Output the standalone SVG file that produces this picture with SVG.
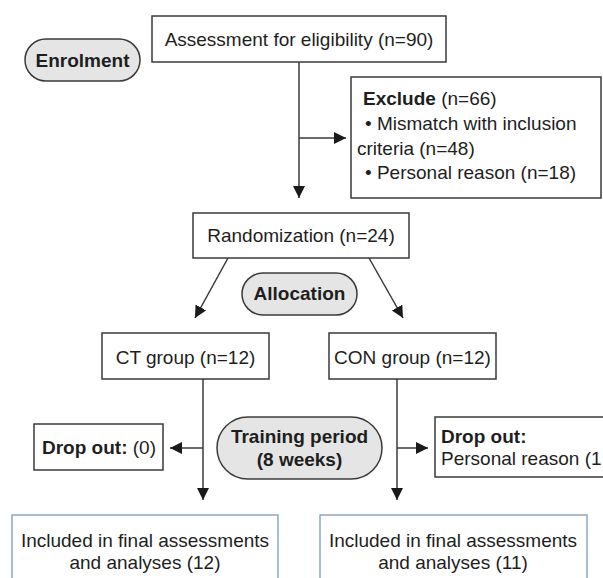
<svg xmlns="http://www.w3.org/2000/svg" width="603" height="578" viewBox="0 0 603 578">
<defs>
<style>
.box{fill:#fff;stroke:#3a3a3a;stroke-width:1.5}
.fin{fill:#fff;stroke:#8ea6c2;stroke-width:1.5}
.pill{fill:#e5e5e5;stroke:#3a3a3a;stroke-width:1.5}
.t{font-family:"Liberation Sans",Arial,sans-serif;font-size:19px;fill:#1e1e1e}
.c{text-anchor:middle}
.b{font-weight:bold}
.ln{fill:none;stroke:#3a3a3a;stroke-width:1.5}
</style>
<marker id="ah" markerUnits="userSpaceOnUse" markerWidth="13" markerHeight="13" refX="12" refY="6" orient="auto">
<path d="M0,0 L12,6 L0,12 z" fill="#1a1a1a"/>
</marker>
</defs>
<rect width="603" height="578" fill="#fff"/>

<g id="connectors">
<path class="ln" d="M299,62 V198" marker-end="url(#ah)"/>
<path class="ln" d="M299,138 H346" marker-end="url(#ah)"/>
<path class="ln" d="M228,258 L195,318" marker-end="url(#ah)"/>
<path class="ln" d="M369,258 L403,318" marker-end="url(#ah)"/>
<path class="ln" d="M203,379 V500" marker-end="url(#ah)"/>
<path class="ln" d="M397,379 V500" marker-end="url(#ah)"/>
<path class="ln" d="M203,448 H170" marker-end="url(#ah)"/>
<path class="ln" d="M397,448 H428" marker-end="url(#ah)"/>
</g>

<g id="enrolment">
<rect class="pill" x="25" y="39" width="115" height="42" rx="21"/>
<text class="t c b" x="82.5" y="67">Enrolment</text>
</g>

<g id="assessment">
<rect class="box" x="152" y="16" width="294" height="46"/>
<text class="t c" x="299" y="46">Assessment for eligibility (n=90)</text>
</g>

<g id="exclude">
<rect class="box" x="351" y="77" width="250" height="121"/>
<text class="t" x="363" y="105"><tspan class="b">Exclude</tspan> (n=66)</text>
<text class="t" x="365" y="130">• Mismatch with inclusion</text>
<text class="t" x="357" y="155">criteria (n=48)</text>
<text class="t" x="365" y="179">• Personal reason (n=18)</text>
</g>

<g id="randomization">
<rect class="box" x="193" y="213" width="216" height="45"/>
<text class="t c" x="301" y="242">Randomization (n=24)</text>
</g>

<g id="allocation">
<rect class="pill" x="242" y="273" width="115" height="42" rx="21"/>
<text class="t c b" x="299.5" y="300">Allocation</text>
</g>

<g id="ct-group">
<rect class="box" x="102" y="333" width="167" height="46"/>
<text class="t c" x="185.5" y="364">CT group (n=12)</text>
</g>

<g id="con-group">
<rect class="box" x="329" y="333" width="167" height="46"/>
<text class="t c" x="412.5" y="364">CON group (n=12)</text>
</g>

<g id="dropout-ct">
<rect class="box" x="34" y="424" width="129" height="46"/>
<text class="t" x="42" y="454"><tspan class="b">Drop out:</tspan> (0)</text>
</g>

<g id="training">
<rect class="pill" x="217" y="417" width="165" height="62" rx="31"/>
<text class="t c b" x="299.5" y="443">Training period</text>
<text class="t c b" x="299.5" y="466">(8 weeks)</text>
</g>

<g id="dropout-con">
<path class="box" d="M604,417 H435 V477 H604"/>
<text class="t b" x="441" y="443">Drop out:</text>
<text class="t" x="441" y="465">Personal reason (1</text>
</g>

<g id="final-ct">
<path class="fin" d="M12,580 V515 H278 V580"/>
<text class="t c" x="145" y="547">Included in final assessments</text>
<text class="t c" x="145" y="569">and analyses (12)</text>
</g>

<g id="final-con">
<path class="fin" d="M320,580 V515 H587 V580"/>
<text class="t c" x="453" y="547">Included in final assessments</text>
<text class="t c" x="453" y="569">and analyses (11)</text>
</g>
</svg>
